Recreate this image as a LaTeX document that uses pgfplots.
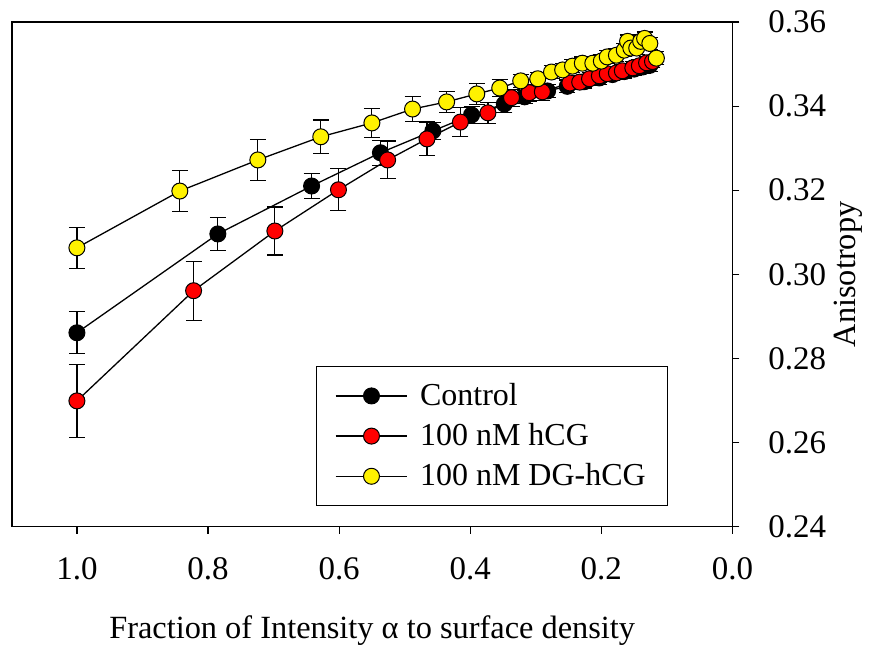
\documentclass[border=0pt]{standalone}
\usepackage{fontspec}
\setmainfont{Liberation Serif}
\usepackage{pgfplots}
\usepackage{pgfplotstable}
\pgfplotsset{compat=1.18}

% columns: x = fraction of intensity, y = anisotropy, e = error
\pgfplotstableread{
x     y      e
1.000 0.2861 0.0050
0.785 0.3096 0.0040
0.642 0.3210 0.0030
0.537 0.3289 0.0030
0.457 0.3341 0.0020
0.398 0.3379 0.0020
0.348 0.3405 0.0020
0.317 0.3422 0.0015
0.282 0.3436 0.0015
0.252 0.3447 0.0015
0.226 0.3458 0.0015
0.203 0.3467 0.0015
0.183 0.3475 0.0015
0.165 0.3482 0.0015
0.150 0.3488 0.0015
0.137 0.3493 0.0015
0.126 0.3497 0.0015
}\control

\pgfplotstableread{
x     y      e
1.000 0.2699 0.0087
0.822 0.2961 0.0070
0.698 0.3103 0.0057
0.601 0.3201 0.0050
0.526 0.3272 0.0045
0.466 0.3322 0.0040
0.415 0.3362 0.0035
0.373 0.3384 0.0025
0.337 0.3420 0.0020
0.310 0.3432 0.0020
0.290 0.3434 0.0020
0.248 0.3455 0.0015
0.233 0.3457 0.0015
0.218 0.3465 0.0015
0.203 0.3472 0.0015
0.191 0.3477 0.0015
0.177 0.3479 0.0015
0.168 0.3484 0.0015
0.152 0.3491 0.0015
0.142 0.3496 0.0015
0.131 0.3503 0.0015
0.122 0.3506 0.0015
}\hcg

\pgfplotstableread{
x     y      e
1.000 0.3063 0.0049
0.843 0.3198 0.0048
0.724 0.3272 0.0048
0.628 0.3327 0.0040
0.550 0.3360 0.0035
0.488 0.3393 0.0030
0.436 0.3410 0.0025
0.390 0.3429 0.0025
0.355 0.3443 0.0020
0.323 0.3460 0.0015
0.297 0.3465 0.0015
0.276 0.3481 0.0015
0.259 0.3486 0.0015
0.244 0.3495 0.0015
0.229 0.3502 0.0015
0.213 0.3502 0.0015
0.200 0.3507 0.0015
0.191 0.3517 0.0015
0.177 0.3521 0.0015
0.165 0.3533 0.0015
0.160 0.3554 0.0015
0.155 0.3538 0.0015
0.146 0.3538 0.0015
0.140 0.3554 0.0015
0.134 0.3561 0.0015
0.126 0.3549 0.0015
0.116 0.3514 0.0015
}\dghcg

\begin{document}
\begin{tikzpicture}
\begin{axis}[
    scale only axis, width=360.5pt, height=252.5pt,
    x dir=reverse, xmin=0, xmax=1.0991, ymin=0.24, ymax=0.36,
    xtick={0,0.2,0.4,0.6,0.8,1.0},
    ytick={0.24,0.26,0.28,0.30,0.32,0.34,0.36},
    xtick pos=bottom, ytick pos=right, yticklabel pos=right,
    tick align=outside, major tick length=3.5pt,
    axis line style={line width=0.75pt}, tick style={line width=0.6pt, black},
    /pgf/number format/assume math mode=true,
    xticklabel style={/pgf/number format/.cd, fixed, fixed zerofill, precision=1, /tikz/.cd, yshift=-8.5pt},
    yticklabel style={/pgf/number format/.cd, fixed, fixed zerofill, precision=2, /tikz/.cd, xshift=11pt},
    ticklabel style={font=\fontsize{16.5}{19}\selectfont},
    scaled y ticks=false,
    xlabel={Fraction of Intensity α to surface density},
    ylabel={Anisotropy},
    label style={font=\fontsize{16.2}{19}\selectfont},
    xlabel style={yshift=-11pt},
    ylabel style={yshift=3pt},
    legend style={at={(0.911,0.04)}, anchor=south east, draw=black, line width=0.6pt,
        font=\fontsize{16}{19}\selectfont, row sep=3.5pt, inner xsep=9pt, inner ysep=6.5pt},
    legend cell align=left,
    legend image code/.code={\draw[mark repeat=2, mark phase=2, line width=0.65pt]
        plot coordinates {(0pt,0pt) (18pt,0pt) (36pt,0pt)};
        \path (40pt,0pt);},
    error bars/error bar style={line width=0.6pt, black},
    error bars/error mark options={rotate=90, mark size=4pt, line width=0.6pt, black},
]
\addplot[black, line width=0.65pt, mark=*, mark size=4pt,
    mark options={fill=black, draw=black, line width=0.5pt},
    error bars/.cd, y dir=both, y explicit]
    table[x=x, y=y, y error=e] {\control};
\addlegendentry{Control}
\addplot[black, line width=0.65pt, mark=*, mark size=4pt,
    mark options={fill=red, draw=black, line width=0.5pt},
    error bars/.cd, y dir=both, y explicit]
    table[x=x, y=y, y error=e] {\hcg};
\addlegendentry{100 nM hCG}
\addplot[black, line width=0.65pt, mark=*, mark size=4pt,
    mark options={fill=yellow, draw=black, line width=0.5pt},
    error bars/.cd, y dir=both, y explicit]
    table[x=x, y=y, y error=e] {\dghcg};
\addlegendentry{100 nM DG-hCG}
\coordinate (bbl) at (rel axis cs:-0.0166,-0.2257);
\coordinate (btr) at (rel axis cs:1.1886,1.0436);
\end{axis}
\path (bbl) rectangle (btr);
\end{tikzpicture}
\end{document}
